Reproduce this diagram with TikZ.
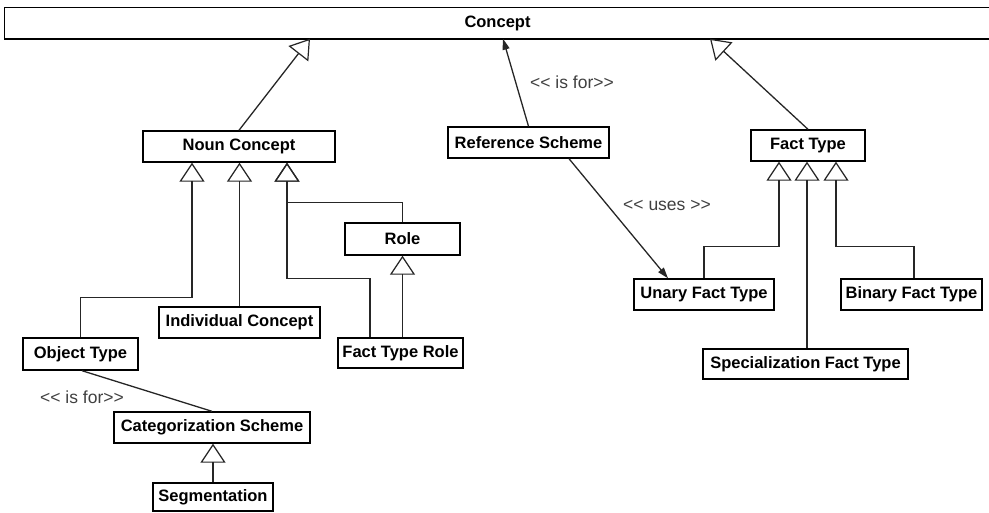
\documentclass[tikz,border=0pt]{standalone}
\usepackage{fontspec}
\newfontfamily\boxfont{Liberation Sans}
\usetikzlibrary{arrows.meta}
\begin{document}
\begin{tikzpicture}[x=1pt,y=-1pt,
  cls/.style={draw=black, line width=1.4pt, fill=white, rectangle, inner sep=0pt,
    font=\boxfont\fontsize{16.5}{18}\selectfont\bfseries},
  conn/.style={draw=black!85, line width=1.3pt},
  gen/.style={conn, -{Triangle[open, length=19pt, width=25pt, line width=1.2pt]}},
  dep/.style={conn, -{Triangle[length=11pt, width=7pt]}},
  lbl/.style={font=\boxfont\fontsize{17.5}{19}\selectfont, text=black!75, inner sep=0pt}]
\useasboundingbox (0,0) rectangle (989,512);
% classes
\node[cls, draw=none, fill=none, minimum width=985pt, minimum height=30pt] (concept) at (497.5,23) {Concept};
\draw[line width=1.6pt, black] ([xshift=30pt]concept.north east) -- (concept.north west)
  -- (concept.south west) -- ([xshift=30pt]concept.south east);
\node[cls, minimum width=192pt, minimum height=31pt] (noun) at (239,146.5) {Noun Concept};
\node[cls, minimum width=161pt, minimum height=31pt] (ref) at (528.5,142.5) {Reference Scheme};
\node[cls, minimum width=114pt, minimum height=31pt] (fact) at (808,145.5) {Fact Type};
\node[cls, minimum width=115pt, minimum height=32pt] (role) at (402.5,239) {Role};
\node[cls, minimum width=161pt, minimum height=31pt] (indiv) at (239.5,322.5) {Individual Concept};
\node[cls, minimum width=125pt, minimum height=30pt] (ftr) at (400.5,353) {Fact Type Role};
\node[cls, minimum width=115pt, minimum height=32pt] (obj) at (80.5,354) {Object Type};
\node[cls, minimum width=196pt, minimum height=31pt] (cat) at (212,427.5) {Categorization Scheme};
\node[cls, minimum width=120pt, minimum height=28pt] (seg) at (213,497) {Segmentation};
\node[cls, minimum width=140pt, minimum height=31pt] (unary) at (704,294.5) {Unary Fact Type};
\node[cls, minimum width=141pt, minimum height=31pt] (binary) at (911.5,294.5) {Binary Fact Type};
\node[cls, minimum width=205pt, minimum height=30pt] (spec) at (805.5,364) {Specialization Fact Type};
% connectors to Concept
\draw[gen] (noun.north) -- ([xshift=-187.5pt]concept.south);
\draw[dep] (ref.north) -- ([xshift=5.5pt]concept.south);
\draw[gen] (fact.north) -- ([xshift=212.5pt]concept.south);
% Noun Concept hierarchy
\draw[gen] (obj.north) -- ++(0,-40) -| ([xshift=-47pt]noun.south);
\draw[gen] (indiv.north) -- (indiv.north |- noun.south);
\draw[gen] (role.north) -- ++(0,-20) -| ([xshift=48pt]noun.south);
\draw[gen] ([xshift=-30.5pt]ftr.north) -- ++(0,-59) -| ([xshift=48pt]noun.south);
\draw[gen] (ftr.north -| role.south) -- (role.south);
\draw[gen] (seg.north) -- (seg.north |- cat.south);
\draw[conn] ([xshift=1.5pt]obj.south) -- (cat.north);
% Fact Type hierarchy
\draw[dep] ([xshift=40.5pt]ref.south) -- ([xshift=-36pt]unary.north);
\draw[gen] (unary.north) -- ++(0,-32) -| ([xshift=-29pt]fact.south);
\draw[gen] ([xshift=1.5pt]spec.north) -- ([xshift=-1pt]fact.south);
\draw[gen] ([xshift=2.5pt]binary.north) -- ++(0,-32) -| ([xshift=28pt]fact.south);
% labels
\node[lbl] (l1) at (572,82) {<< is for>>};
\node[lbl] (l2) at (667,205) {<< uses >>};
\node[lbl] (l3) at (82,397) {<< is for>>};
\end{tikzpicture}
\end{document}
